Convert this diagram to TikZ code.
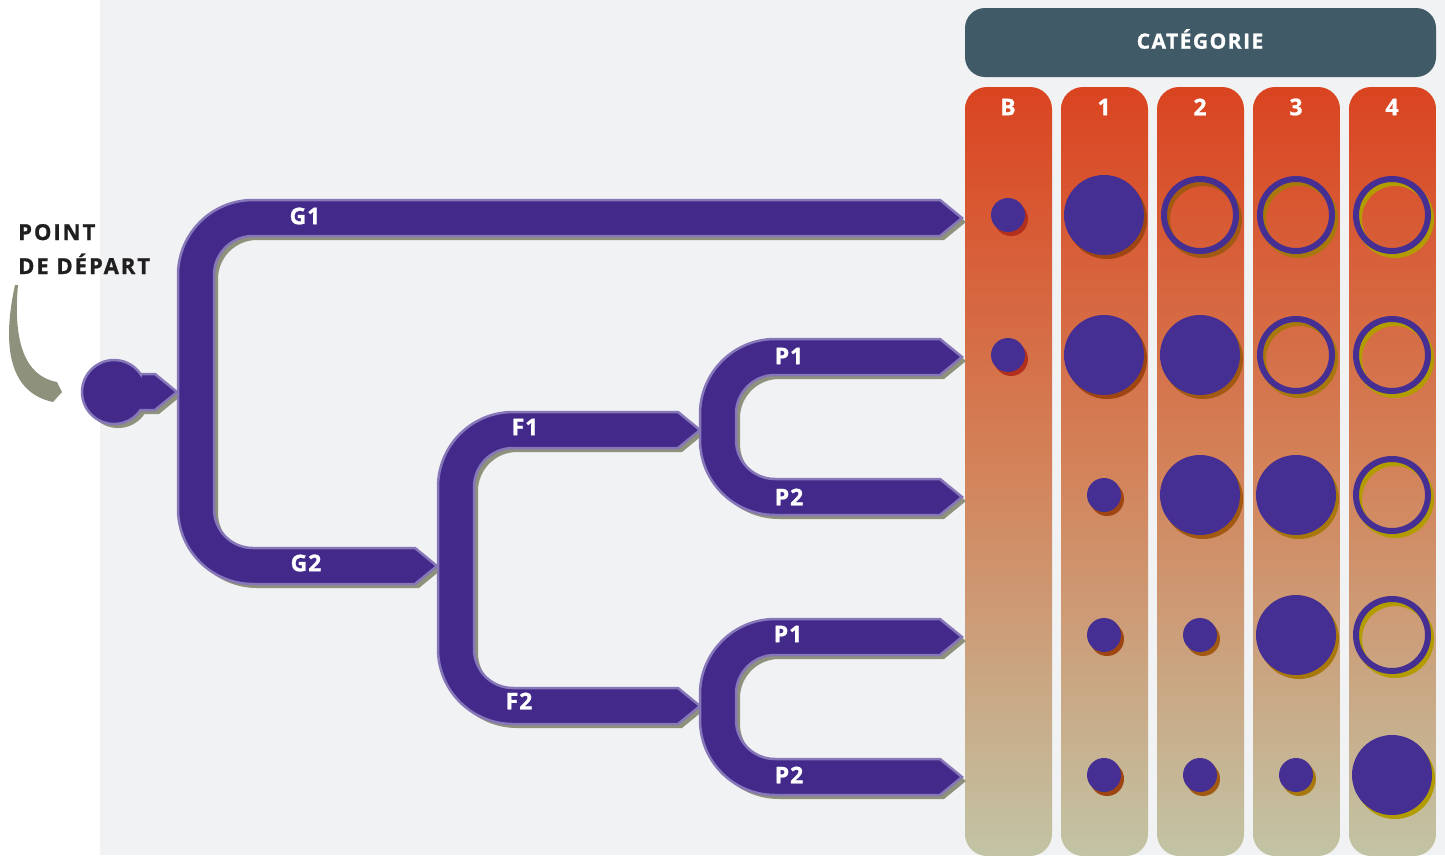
\documentclass[tikz,border=0pt]{standalone}
\usepackage{fontspec}
\setsansfont[BoldFeatures={FakeBold=1}]{Open Sans}
\newfontfamily\tagfont[LetterSpace=4, BoldFeatures={FakeBold=1}]{Open Sans}
\newfontfamily\headfont[LetterSpace=7, BoldFeatures={FakeBold=1}]{Open Sans}
\newfontfamily\startfont[LetterSpace=9, BoldFeatures={FakeBold=1}]{Open Sans}
\definecolor{pipefill}{HTML}{43298A}
\definecolor{pipeedge}{HTML}{8677B9}
\definecolor{pipeshade}{HTML}{8E917B}
\definecolor{pagegray}{HTML}{F1F2F4}
\definecolor{headblue}{HTML}{415A67}
\definecolor{coltop}{HTML}{DA4420}
\definecolor{colmid}{HTML}{D3835A}
\definecolor{colbot}{HTML}{C2C4A5}
\definecolor{dotfill}{HTML}{452F92}
\definecolor{cshadow0}{HTML}{B22F1E}
\definecolor{cshadow1}{HTML}{9E4512}
\definecolor{cshadow2}{HTML}{A25A12}
\definecolor{cshadow3}{HTML}{A8780C}
\definecolor{cshadow4}{HTML}{B29C00}
\def\branchpath{({\ta-22},{\ca-75}) -- (\ta,{\ca-57}) -- ({\ta-22},{\ca-39}) -- ({\xl+75},{\ca-39}) arc[start angle=270,end angle=180,radius=39] -- ({\xl+36},\cb) arc[start angle=180,end angle=90,radius=39] -- ({\tb-22},{\cb+39}) -- (\tb,{\cb+57}) -- ({\tb-22},{\cb+75}) -- ({\xl+75},{\cb+75}) arc[start angle=90,end angle=180,radius=75] -- (\xl,\ca) arc[start angle=180,end angle=270,radius=75] -- cycle}
\def\knobpath{(140.5,374) -- (155,374) -- (177,392) -- (155,410) -- (140.5,410) arc[start angle=34.2,end angle=325.8,radius=32] -- cycle}

\begin{document}
\begin{tikzpicture}[x=1pt,y=-1pt,
  pipe/.style={fill=pipefill, draw=pipeedge, line width=2.5pt},
  pipeshadow/.style={fill=pipeshade, shift={(4,4)}},
  tag/.style={text=white, inner sep=0pt, font=\tagfont\bfseries\fontsize{23}{23}\selectfont},
  headtext/.style={text=white, inner sep=0pt, font=\headfont\bfseries\fontsize{21}{21}\selectfont},
  colhead/.style={text=white, inner sep=0pt, font=\sffamily\bfseries\fontsize{23}{23}\selectfont},
  starttext/.style={text=black!88, inner sep=0pt, anchor=base west, font=\startfont\bfseries\fontsize{22}{22}\selectfont}]
\useasboundingbox (0,0) rectangle (1445,855);
\fill[white] (0,0) rectangle (100,855);
\fill[pagegray] (100,0) rectangle (1445,855);
\fill[headblue, rounded corners=20pt] (965,8) rectangle (1436,77);
\node[headtext] (Cat) at (1200,39) {CATÉGORIE};
\foreach \c/\t in {0/B,1/1,2/2,3/3,4/4}{
  \shade[top color=coltop, bottom color=colbot, middle color=colmid, rounded corners=22pt] ({965+96*\c},87) rectangle ({1052+96*\c},856);
  \node[colhead] (Col\c) at ({1008+96*\c},107) {\t};
}
\foreach \c/\r in {0/0,0/1,1/2,1/3,2/3,1/4,2/4,3/4}{
  \fill[fill=cshadow\c] ({1011+96*\c},{219+140*\r}) circle[radius=17];
  \fill[dotfill] ({1008+96*\c},{215+140*\r}) circle[radius=17];
}
\foreach \c/\r in {1/0,1/1,2/1,2/2,3/2,3/3,4/4}{
  \fill[fill=cshadow\c] ({1011+96*\c},{219+140*\r}) circle[radius=40];
  \fill[dotfill] ({1008+96*\c},{215+140*\r}) circle[radius=40];
}
\foreach \c/\r in {2/0,3/0,4/0,3/1,4/1,4/2,4/3}{
  \draw[draw=cshadow\c, line width=6pt] ({1011+96*\c},{219+140*\r}) circle[radius=36];
  \draw[dotfill, line width=6pt] ({1008+96*\c},{215+140*\r}) circle[radius=36];
}
\fill[pipeshade] (15,285) .. controls (3,340) and (6,392) .. (53,402) -- (62,392) -- (57,382) .. controls (24,376) and (13,340) .. (18,285) -- cycle;
\node[starttext] (Start1) at (18,240) {POINT};
\node[starttext] (Start2) at (18,274) {DE DÉPART};
\foreach \xl/\ca/\cb/\ta/\tb in {178/275/509/962/437,438/487/649/700/700,700/414/440/962/962,700/694/720/962/962}
  \fill[pipeshadow] \branchpath;
\fill[pipeshadow] \knobpath;
\foreach \xl/\ca/\cb/\ta/\tb in {178/275/509/962/437,438/487/649/700/700,700/414/440/962/962,700/694/720/962/962}
  \draw[pipe] \branchpath;
\draw[pipe] \knobpath;
\node[tag] (G1) at (305,216) {G1};
\node[tag] (G2) at (306,563) {G2};
\node[tag] (F1) at (525,427) {F1};
\node[tag] (F2) at (519,701) {F2};
\node[tag] (P1a) at (789,356) {P1};
\node[tag] (P2a) at (789,497) {P2};
\node[tag] (P1b) at (788,634) {P1};
\node[tag] (P2b) at (789,775) {P2};
\end{tikzpicture}
\end{document}
